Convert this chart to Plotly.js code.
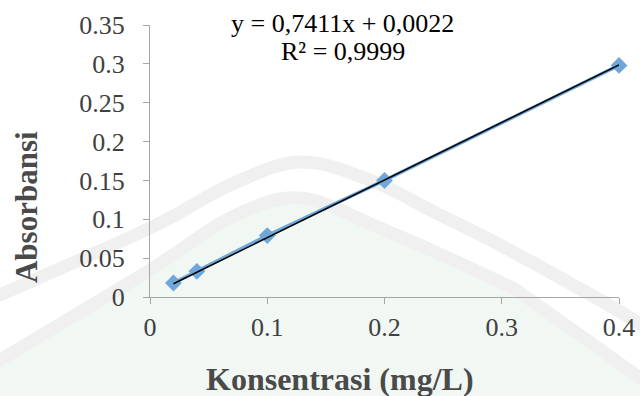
<!DOCTYPE html>
<html>
<head>
<meta charset="utf-8">
<script src="https://cdn.plot.ly/plotly-3.0.1.min.js"></script>
<style>
html,body{margin:0;padding:0;background:#fff}
#wrap{position:relative;width:640px;height:396px;overflow:hidden}
#wm{position:absolute;left:0;top:0;width:640px;height:396px}
#chart{position:absolute;left:0;top:0;width:640px;height:396px}
</style>
</head>
<body>
<div id="wrap">
<svg id="wm" width="640" height="396" xmlns="http://www.w3.org/2000/svg"></svg>
<div id="chart"></div>
</div>
<script>
// ---- chart data ----
var konsentrasi = [0.02, 0.04, 0.1, 0.2, 0.4];
var absorbansi = [0.018, 0.033, 0.079, 0.150, 0.298];
var slope = 0.7411;
var intercept = 0.0022;
var xTicks = [0, 0.1, 0.2, 0.3, 0.4];
var xTickText = ['0', '0.1', '0.2', '0.3', '0.4'];
var yTicks = [0, 0.05, 0.1, 0.15, 0.2, 0.25, 0.3, 0.35];
var yTickText = ['0', '0.05', '0.1', '0.15', '0.2', '0.25', '0.3', '0.35'];
var equationLine1 = 'y = 0,7411x + 0,0022';
var equationLine2 = 'R² = 0,9999';
var xTitle = 'Konsentrasi (mg/L)';
var yTitle = 'Absorbansi';

// ---- faint background watermark (decoration only) ----
function smoothPath(pts) {
  var d = 'M' + pts[0][0] + ',' + pts[0][1];
  for (var i = 0; i < pts.length - 1; i++) {
    var p0 = pts[i - 1] || pts[i], p1 = pts[i], p2 = pts[i + 1], p3 = pts[i + 2] || p2;
    var c1 = [p1[0] + (p2[0] - p0[0]) / 6, p1[1] + (p2[1] - p0[1]) / 6];
    var c2 = [p2[0] - (p3[0] - p1[0]) / 6, p2[1] - (p3[1] - p1[1]) / 6];
    d += ' C' + c1.join(',') + ' ' + c2.join(',') + ' ' + p2.join(',');
  }
  return d;
}
var outerBand = [[-10,300],[0,295],[150,228],[230,185],[300,162],[370,180],[440,215],[500,245],[600,300],[650,330]];
var innerBand = [[-10,366],[0,360],[150,270],[230,218],[300,198],[380,228],[500,282],[530,300],[640,378],[650,386]];
var svg = document.getElementById('wm');
var ns = 'http://www.w3.org/2000/svg';
var fill = document.createElementNS(ns, 'path');
fill.setAttribute('d', smoothPath(innerBand) + ' L650,400 L-10,400 Z');
fill.setAttribute('fill', '#f1f8f4');
svg.appendChild(fill);
[outerBand, innerBand].forEach(function (pts) {
  var p = document.createElementNS(ns, 'path');
  p.setAttribute('d', smoothPath(pts));
  p.setAttribute('fill', 'none');
  p.setAttribute('stroke', '#f0f0f0');
  p.setAttribute('stroke-width', '13');
  svg.appendChild(p);
});

// ---- plot ----
var trendX = [konsentrasi[0], konsentrasi[konsentrasi.length - 1]];
var trendY = trendX.map(function (x) { return slope * x + intercept; });

var data = [
  {
    x: konsentrasi, y: absorbansi, type: 'scatter', mode: 'lines+markers',
    line: {color: '#6fa7db', width: 3.5},
    marker: {symbol: 'diamond', size: 13, color: '#6fa7db'},
    cliponaxis: false, hoverinfo: 'skip'
  },
  {
    x: trendX, y: trendY, type: 'scatter', mode: 'lines',
    line: {color: '#000000', width: 1.5},
    cliponaxis: false, hoverinfo: 'skip'
  }
];

var font = 'Liberation Serif, Times New Roman, serif';
var textColor = '#404040';
var layout = {
  width: 640, height: 396,
  margin: {l: 150, r: 21, t: 25, b: 99, pad: 0},
  paper_bgcolor: 'rgba(0,0,0,0)', plot_bgcolor: 'rgba(0,0,0,0)',
  showlegend: false,
  font: {family: font, color: textColor, size: 26},
  xaxis: {
    range: [0, 0.4], tickvals: xTicks, ticktext: xTickText,
    showgrid: false, zeroline: false, showline: true, linecolor: '#a6a6a6', linewidth: 1,
    ticks: 'outside', ticklen: 6, tickcolor: '#a6a6a6', ticklabelstandoff: 1,
    tickfont: {family: font, size: 26, color: textColor}
  },
  yaxis: {
    range: [0, 0.35], tickvals: yTicks, ticktext: yTickText,
    showgrid: false, zeroline: false, showline: true, linecolor: '#a6a6a6', linewidth: 1,
    ticks: 'outside', ticklen: 6, tickcolor: '#a6a6a6', ticklabelstandoff: 13,
    tickfont: {family: font, size: 26, color: textColor}
  },
  annotations: [
    {text: equationLine1, xref: 'paper', yref: 'paper', x: 0.4104, y: 1.007,
     xanchor: 'center', yanchor: 'middle', showarrow: false,
     font: {family: font, size: 26, color: '#000000'}},
    {text: equationLine2, xref: 'paper', yref: 'paper', x: 0.4125, y: 0.9026,
     xanchor: 'center', yanchor: 'middle', showarrow: false,
     font: {family: font, size: 26, color: '#000000'}},
    {text: '<b>' + xTitle + '</b>', xref: 'paper', yref: 'paper', x: (339.5 - 150) / 469, y: -0.3015,
     xanchor: 'center', yanchor: 'middle', showarrow: false,
     font: {family: font, size: 32, color: '#4a4a4a'}},
    {text: '<b>' + yTitle + '</b>', xref: 'paper', yref: 'paper', x: -0.2633, y: 0.329,
     xanchor: 'center', yanchor: 'middle', showarrow: false, textangle: -90,
     font: {family: font, size: 31, color: '#4a4a4a'}}
  ]
};

Plotly.newPlot('chart', data, layout, {staticPlot: true, displayModeBar: false});
</script>
</body>
</html>
